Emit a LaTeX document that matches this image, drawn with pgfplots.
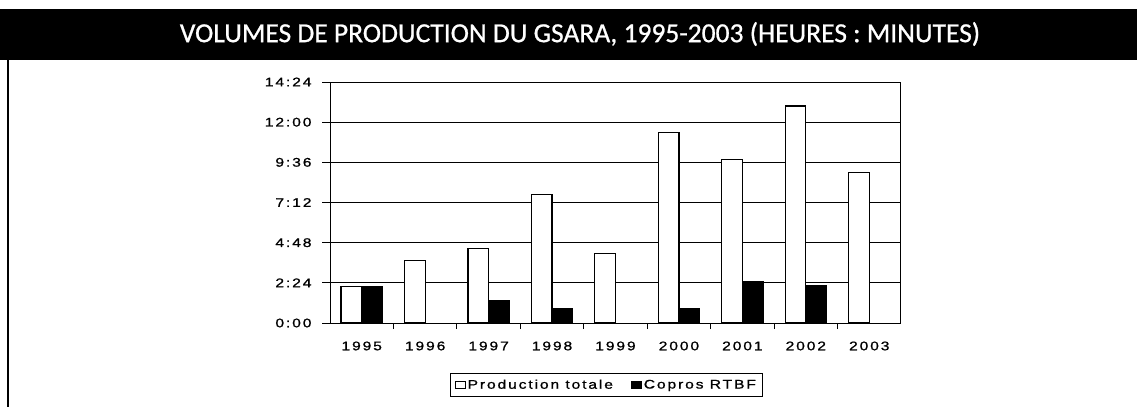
\documentclass[border=0pt]{standalone}
\usepackage{fontspec}
\setmainfont{Liberation Sans}
\newfontfamily\titlefont[FakeBold=0.8]{Carlito}
\newfontfamily\tickfont[FakeStretch=1.25, LetterSpace=15, FakeBold=1]{Liberation Sans}
\usepackage{pgfplots}
\pgfplotsset{compat=1.18}
\begin{document}
\begin{tikzpicture}
\path[use as bounding box] (0pt,0pt) rectangle (1137pt,-407pt);
\fill[white] (0pt,0pt) rectangle (1137pt,-407pt);
\fill[black] (0pt,-9pt) rectangle (1137pt,-60pt);
\draw[black, line width=2pt] (8pt,-60pt) -- (8pt,-407pt);
\node[text=white, font=\titlefont\fontsize{27.5}{32}\selectfont] at (580pt,-34pt) {VOLUMES DE PRODUCTION DU GSARA, 1995-2003 (HEURES : MINUTES)};
\begin{axis}[
  at={(330pt,-323pt)}, anchor=south west,
  scale only axis, width=571pt, height=241pt,
  xmin=-0.5, xmax=8.5, ymin=0, ymax=864,
  ytick={0,144,288,432,576,720,864},
  yticklabels={0:00,2:24,4:48,7:12,9:36,12:00,14:24},
  xtick={0,1,2,3,4,5,6,7,8},
  xticklabels={1995,1996,1997,1998,1999,2000,2001,2002,2003},
  minor xtick={0.5,1.5,2.5,3.5,4.5,5.5,6.5,7.5},
  major x tick style={draw=none},
  tick pos=left, tick align=outside,
  major tick length=8pt, minor tick length=6pt,
  tick style={black, line width=1pt},
  ymajorgrids, major grid style={black, line width=1pt},
  axis line style={black, line width=1pt},
  ticklabel style={font=\tickfont\fontsize{12.5}{14}\selectfont},
  yticklabel style={xshift=-7pt},
  xticklabel style={yshift=-7pt},
  legend style={at={(0.484,-0.257)}, anchor=center, legend columns=2, draw=black, line width=0.8pt,
    font=\tickfont\fontsize{12.5}{14}\selectfont, inner xsep=4pt, inner ysep=4pt},
  legend cell align=left,
  /tikz/every even column/.append style={column sep=16pt},
  legend image code/.code={\draw[#1, line width=0.8pt] (0pt,-3.5pt) rectangle (10pt,3.5pt);},
]
\addplot[ybar, bar width=0.326, bar shift=-0.163, fill=white, draw=black, line width=1.2pt]
  coordinates {(0,130) (1,224) (2,268) (3,462) (4,248) (5,682) (6,586) (7,778) (8,540)};
\addlegendentry{Production totale}
\addplot[ybar, bar width=0.326, bar shift=0.163, fill=black, draw=black, line width=1.2pt]
  coordinates {(0,130) (2,80) (3,51) (5,52) (6,149) (7,133)};
\addlegendentry{Copros RTBF}
\end{axis}
\end{tikzpicture}
\end{document}
